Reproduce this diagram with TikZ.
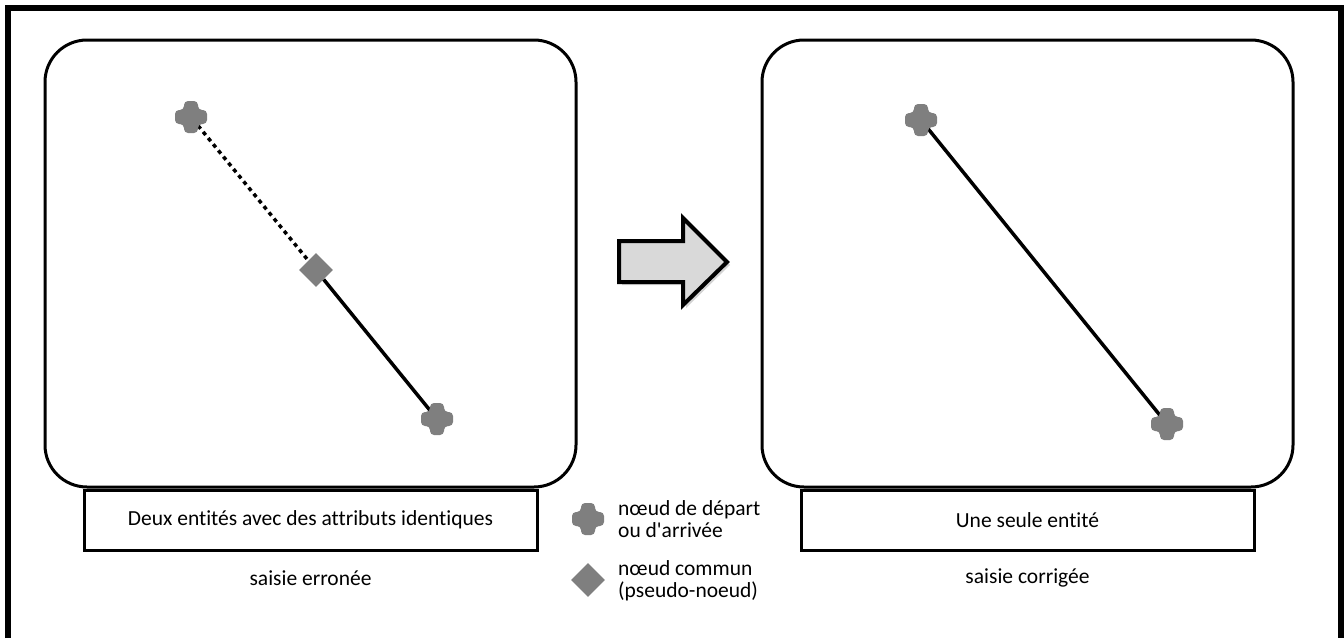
\documentclass[tikz,border=0pt]{standalone}
\usepackage{fontspec}
\setmainfont{Carlito}[Ligatures={TeXOff,CommonOff}]
\usetikzlibrary{shapes.geometric}
\usetikzlibrary{shadows}
\usetikzlibrary{positioning}

\definecolor{markgray}{HTML}{7F7F7F}
\definecolor{arrowgray}{HTML}{D9D9D9}

\tikzset{
  entitybox/.style={draw,line width=3,rounded corners=42,minimum width=531,minimum height=447,inner sep=0},
  captionbox/.style={draw,line width=3,minimum width=453,minimum height=60,inner sep=0,font=\fontsize{21.5}{22.5}\selectfont},
  plaintext/.style={inner sep=0,font=\fontsize{21.5}{22.5}\selectfont},
  endpoint/.style={circle,minimum size=22,inner sep=0},
  pseudopoint/.style={diamond,fill=markgray,minimum size=34,inner sep=0},
  crossmark/.style={fill=markgray,rounded corners=4},
}

\begin{document}
\begin{tikzpicture}[x=1pt,y=-1pt]

  \useasboundingbox (0,0) rectangle (1344,638);

  % outer frame, open at the bottom
  \draw [line width=6] (8,638) -- (8,8) -- (1341,8) -- (1341,638);

  % erroneous input
  \node [entitybox] (Lbox) at (310.5,263.5) {};
  \node [captionbox,below=0pt of Lbox] (Lcap) {Deux entités avec des attributs identiques};
  \node [plaintext] (Ltitle) at (310.5,578) {saisie erronée};

  % corrected input
  \node [entitybox] (Rbox) at (1027.5,263.5) {};
  \node [captionbox,below=0pt of Rbox] (Rcap) {Une seule entité};
  \node [plaintext] (Rtitle) at (1027.5,578) {saisie corrigée};

  % points
  \node [endpoint] (L_start) at (191,117) {};
  \node [pseudopoint] (L_mid) at (316,270) {};
  \node [endpoint] (L_end) at (437,419) {};
  \node [endpoint] (R_start) at (921,120) {};
  \node [endpoint] (R_end) at (1167,424) {};

  \path [draw,line width=3.5]
    (L_mid)   edge (L_end)
    (R_start) edge (R_end);
  \path [draw,line width=3.5,dash pattern=on 4 off 4]
    (L_start) edge (L_mid);

  % legend
  \node [endpoint] (K_end) at (588,519) {};
  \node [pseudopoint] (K_mid) at (588,580) {};
  \node [plaintext,align=left,anchor=west] (K_endtext) at (618,519) {nœud de départ\\ou d'arrivée};
  \node [plaintext,align=left,anchor=west] (K_midtext) at (618,581) {nœud commun\\(pseudo-noeud)};

  \foreach \p in {L_start,L_end,R_start,R_end,K_end}
    \fill [crossmark,shift={(\p.center)}]
      (-7,-16) -- (7,-16) -- (7,-7) -- (16,-7) -- (16,7) -- (7,7) -- (7,16)
      -- (-7,16) -- (-7,7) -- (-16,7) -- (-16,-7) -- (-7,-7) -- cycle;

  % transition arrow
  \filldraw [fill=arrowgray,line width=4,line join=miter,
             drop shadow={opacity=0.35,shadow xshift=3pt,shadow yshift=-3pt}]
    (619,241) -- (683,241) -- (683,218) -- (727,262) -- (683,305)
    -- (683,282) -- (619,282) -- cycle;

\end{tikzpicture}
\end{document}
